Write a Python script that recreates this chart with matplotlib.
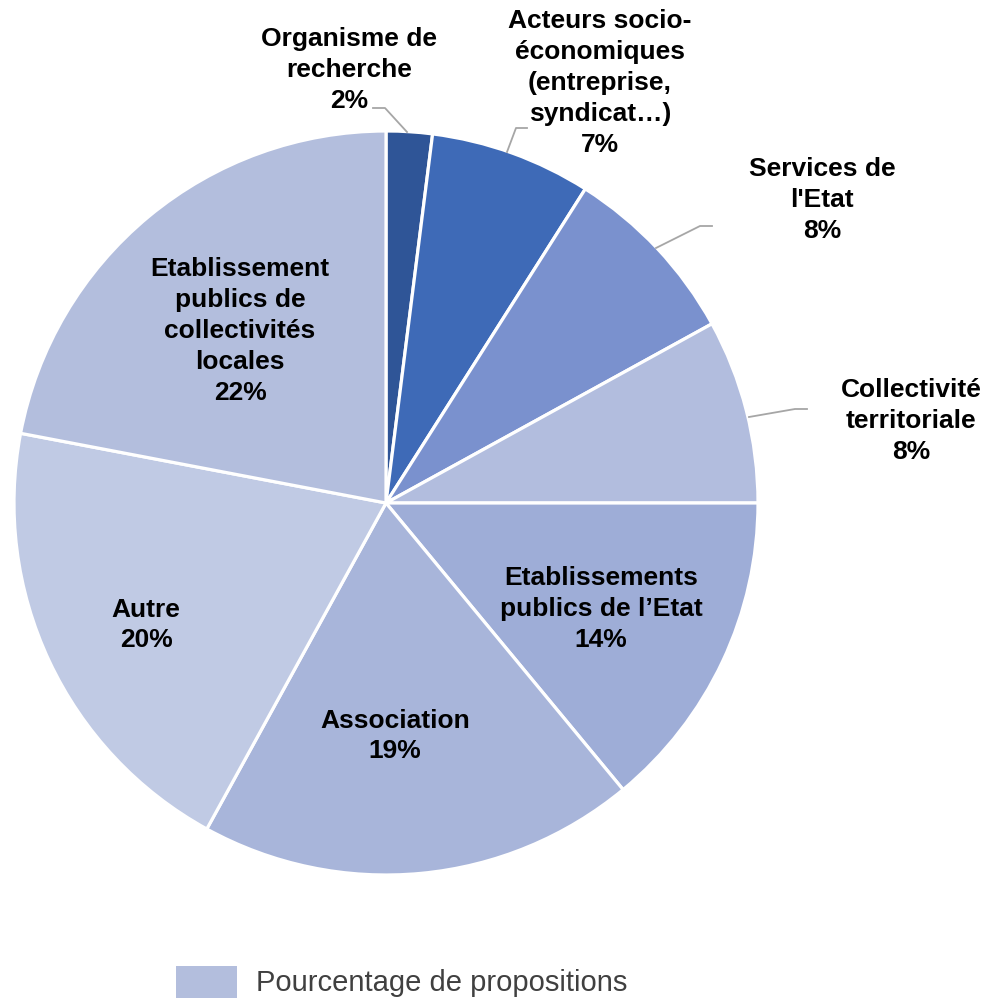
import matplotlib
matplotlib.use("Agg")
import matplotlib.pyplot as plt
from matplotlib.patches import Rectangle

plt.rcParams['font.family'] = ['Liberation Sans', 'DejaVu Sans']

categories = [
    "Organisme de\nrecherche",
    "Acteurs socio-\néconomiques\n(entreprise,\nsyndicat…)",
    "Services de\nl'Etat",
    "Collectivité\nterritoriale",
    "Etablissements\npublics de l’Etat",
    "Association",
    "Autre",
    "Etablissement\npublics de\ncollectivités\nlocales",
]
values = [2, 7, 8, 8, 14, 19, 20, 22]
colors = ["#2F5597", "#3E6AB7", "#7A91CE", "#B2BDDE",
          "#9EADD7", "#A8B5DA", "#C0CAE4", "#B3BEDD"]
legend_label = "Pourcentage de propositions"

W, H = 989, 998
fig = plt.figure(figsize=(W / 100, H / 100), dpi=100)

cx, cy, r = 386, 503, 372
ax = fig.add_axes([(cx - r) / W, (H - cy - r) / H, 2 * r / W, 2 * r / H])

wedges, _ = ax.pie(values, colors=colors, startangle=90, counterclock=False,
                   radius=1, wedgeprops=dict(edgecolor='white', linewidth=2.3))
ax.set_xlim(-1, 1)
ax.set_ylim(-1, 1)
ax.set_aspect('equal')
ax.axis('off')


def d(px, py):
    """pixel position -> data coordinates of the pie axes"""
    return (px - cx) / r, (cy - py) / r


label_px = [(349, 70), (600, 83), (822, 200), (911, 421),
            (601, 609), (395, 736), (146, 625), (240, 331)]
for name, v, (px, py) in zip(categories, values, label_px):
    x, y = d(px, py)
    ax.text(x, y, f"{name}\n{v}%", ha='center', va='center', fontsize=19,
            fontweight='bold', color='black', linespacing=1.36, clip_on=False)

# leader lines for the outside labels
leaders = [
    [(373, 108), (385, 108), (407, 132)],
    [(527, 128), (516, 128), (507, 152)],
    [(712, 226), (700, 226), (656, 248)],
    [(807, 409), (795, 409), (749, 417)],
]
for pts in leaders:
    xs, ys = zip(*[d(*p) for p in pts])
    ax.plot(xs, ys, color='#A6A6A6', lw=1.3, clip_on=False)

# legend
fig.patches.append(Rectangle((176 / W, (H - 998) / H), 61 / W, 32 / H,
                             transform=fig.transFigure, facecolor="#B3BEDD",
                             edgecolor='none'))
fig.text(256 / W, (H - 983) / H, legend_label, ha='left', va='center',
         fontsize=21, color='#404040')

fig.savefig("out.png", dpi=100)
